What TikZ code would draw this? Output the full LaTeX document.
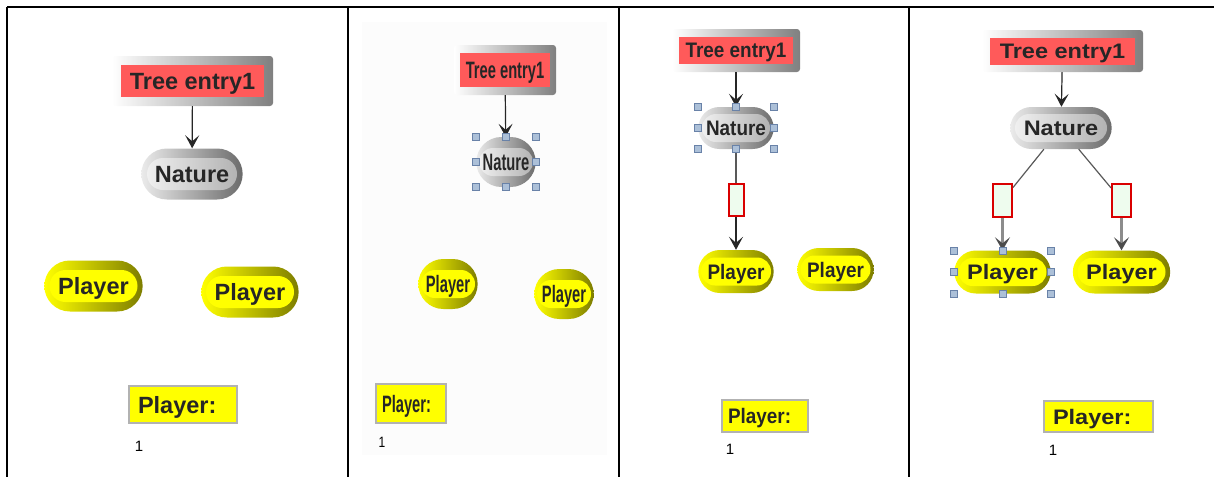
\documentclass[tikz,border=0pt]{standalone}
\usepackage{fontspec}
\setmainfont{Liberation Sans}
\usepackage{graphicx}
\usetikzlibrary{arrows.meta,shapes.misc}

\definecolor{entryred}{RGB}{255,90,90}
\definecolor{pillyellow}{RGB}{255,255,0}
\definecolor{pillolive}{RGB}{125,125,0}
\definecolor{handleblue}{RGB}{172,192,216}
\definecolor{handleedge}{RGB}{105,130,168}
\definecolor{boxgreen}{RGB}{238,252,238}
\definecolor{inkgray}{RGB}{38,38,38}

\newcommand{\sx}{1}
\newcommand{\sq}[1]{\scalebox{\sx}[1]{#1}}

\tikzset{
  frame/.style={rectangle, rounded corners=3pt, left color=white, right color=black!50},
  entry/.style={rectangle, fill=entryred, inner sep=0pt, text depth=0pt, text=inkgray},
  natout/.style={rounded rectangle, left color=black!8, right color=black!58},
  natin/.style={rounded rectangle, left color=black!6, right color=black!30, inner sep=0pt, text depth=0pt, text=inkgray},
  plout/.style={rounded rectangle, left color=pillyellow, right color=pillolive},
  plin/.style={rounded rectangle, fill=pillyellow, inner sep=0pt, text depth=0pt, text=inkgray},
  legend/.style={rectangle, fill=pillyellow, draw=black!30, line width=1.5pt, align=left, text depth=0pt, text=inkgray},
  num/.style={font=\fontsize{15}{15}\selectfont, inner sep=0pt},
  handle/.style={rectangle, fill=handleblue, draw=handleedge, line width=0.6pt, minimum size=7pt, inner sep=0pt},
  chance/.style={rectangle, fill=boxgreen, draw=red!85!black, line width=2pt, inner sep=0pt},
  link/.style={draw=inkgray, line width=1.2pt, -{Stealth[length=13pt,width=14pt,inset=6pt]}},
  wide link/.style={draw=black!45, line width=3pt, -{Stealth[length=13pt,width=15pt,inset=6pt,color=black!70]}},
  tie/.style={draw=black!65, line width=1.2pt}
}

\begin{document}
\begin{tikzpicture}[x=1pt, y=-1pt]
\useasboundingbox (0,0) rectangle (1214,477);

% table rules
\draw[line width=2.5pt] (7,7) -- (1214,7);
\foreach \x in {7,348,619,909}
  \draw[line width=2.5pt] (\x,7) -- (\x,477);

% panel 1
\begin{scope}[every node/.append style={font=\fontsize{23.5}{24}\bfseries\selectfont}]
\node[frame, minimum width=161pt, minimum height=50pt] (f1) at (192.5,81) {};
\node[entry, minimum width=143pt, minimum height=32pt] (t1) at (192.5,81) {\sq{Tree entry1}};
\node[natout, minimum width=108pt, minimum height=51pt] (n1) at (192,174) {};
\node[natin, minimum width=90pt, minimum height=32pt] (m1) at (192,174) {\sq{Nature}};
\node[plout, minimum width=105pt, minimum height=51pt] (p1a) at (93.5,286) {};
\node[plin, minimum width=88pt, minimum height=32pt] (q1a) at (93.5,286) {\sq{Player}};
\node[plout, minimum width=104pt, minimum height=51pt] (p1b) at (250,292) {};
\node[plin, minimum width=88pt, minimum height=32pt] (q1b) at (250,292) {\sq{Player}};
\node[legend, minimum height=37pt, inner xsep=9pt, text width=90pt] (l1) at (183,404.5) {\sq{Player:}};
\node[num] (c1) at (139,446) {1};
\draw[link] (f1) -- (n1);
\end{scope}

% panel 2
\fill[black!1] (362,22) rectangle (607,455);
\begin{scope}[every node/.append style={font=\fontsize{23.7}{24}\bfseries\selectfont}]
\renewcommand{\sx}{0.62}
\node[frame, minimum width=102pt, minimum height=50pt] (f2) at (505,70) {};
\node[entry, minimum width=90pt, minimum height=34pt] (t2) at (505,70) {\sq{Tree entry1}};
\node[natout, minimum width=66pt, minimum height=50pt] (n2) at (506,162) {};
\node[natin, minimum width=54pt, minimum height=28pt] (m2) at (506,162) {\sq{Nature}};
\node[plout, minimum width=66pt, minimum height=50pt] (p2a) at (448,284) {};
\node[plin, minimum width=54pt, minimum height=28pt] (q2a) at (448,284) {\sq{Player}};
\node[plout, minimum width=66pt, minimum height=50pt] (p2b) at (564,294) {};
\node[plin, minimum width=54pt, minimum height=28pt] (q2b) at (564,294) {\sq{Player}};
\node[legend, minimum height=39pt, inner xsep=6pt, text width=58pt] (l2) at (411,403.5) {\sq{Player:}};
\node[num] (c2) at (382,442) {\scalebox{0.8}[1]{1}};
\draw[link] (f2) -- (n2);
\foreach \h/\v [count=\i] in {west/north,center/north,east/north,east/center,east/south,center/south,west/south,west/center}
  \node[handle] (h2\i) at (n2.\h |- n2.\v) {};
\end{scope}

% panel 3
\begin{scope}[every node/.append style={font=\fontsize{21}{22}\bfseries\selectfont}]
\renewcommand{\sx}{0.9}
\node[frame, minimum width=128pt, minimum height=43pt] (f3) at (736,50.5) {};
\node[entry, minimum width=114pt, minimum height=27pt] (t3) at (736,50.5) {\sq{Tree entry1}};
\node[natout, minimum width=82pt, minimum height=42pt] (n3) at (736,128) {};
\node[natin, minimum width=68pt, minimum height=28pt] (m3) at (736,128) {\sq{Nature}};
\node[chance, minimum width=15pt, minimum height=32pt] (r3) at (736,200) {};
\node[plout, minimum width=82pt, minimum height=43pt] (p3a) at (736,271.5) {};
\node[plin, minimum width=70pt, minimum height=28pt] (q3a) at (736,271.5) {\sq{Player}};
\node[plout, minimum width=83pt, minimum height=43pt] (p3b) at (835.5,269.5) {};
\node[plin, minimum width=70pt, minimum height=28pt] (q3b) at (835.5,269.5) {\sq{Player}};
\node[legend, minimum height=32pt, inner xsep=6pt, text width=74pt] (l3) at (765,416) {\sq{Player:}};
\node[num] (c3) at (730,449) {1};
\draw[link] (f3) -- (n3);
\draw[tie] (n3) -- (r3);
\draw[link] (r3) -- (p3a);
\foreach \h/\v [count=\i] in {west/north,center/north,east/north,east/center,east/south,center/south,west/south,west/center}
  \node[handle] (h3\i) at (n3.\h |- n3.\v) {};
\end{scope}

% panel 4
\begin{scope}[every node/.append style={font=\fontsize{21}{22}\bfseries\selectfont}]
\renewcommand{\sx}{1.12}
\node[frame, minimum width=161pt, minimum height=42pt] (f4) at (1062.5,51) {};
\node[entry, minimum width=145pt, minimum height=27pt] (t4) at (1062.5,51) {\sq{Tree entry1}};
\node[natout, minimum width=108pt, minimum height=42pt] (n4) at (1061,128) {};
\node[natin, minimum width=92pt, minimum height=28pt] (m4) at (1061,128) {\sq{Nature}};
\node[chance, minimum width=19pt, minimum height=33pt] (r4a) at (1002.5,200.5) {};
\node[chance, minimum width=19pt, minimum height=33pt] (r4b) at (1121.5,200.5) {};
\node[plout, minimum width=103pt, minimum height=43pt] (p4a) at (1002.5,272) {};
\node[plin, minimum width=88pt, minimum height=28pt] (q4a) at (1002.5,272) {\sq{Player}};
\node[plout, minimum width=104pt, minimum height=43pt] (p4b) at (1121.5,272) {};
\node[plin, minimum width=88pt, minimum height=28pt] (q4b) at (1121.5,272) {\sq{Player}};
\node[legend, minimum height=31pt, inner xsep=9pt, text width=91pt] (l4) at (1098.5,416.5) {\sq{Player:}};
\node[num] (c4) at (1053,450) {1};
\draw[link] (f4) -- (n4);
\draw[tie] (n4) -- (r4a);
\draw[tie] (n4) -- (r4b);
\draw[wide link] (r4a) -- (p4a);
\draw[wide link] (r4b) -- (p4b);
\foreach \h/\v [count=\i] in {west/north,center/north,east/north,east/center,east/south,center/south,west/south,west/center}
  \node[handle] (h4\i) at (p4a.\h |- p4a.\v) {};
\end{scope}
\end{tikzpicture}
\end{document}
